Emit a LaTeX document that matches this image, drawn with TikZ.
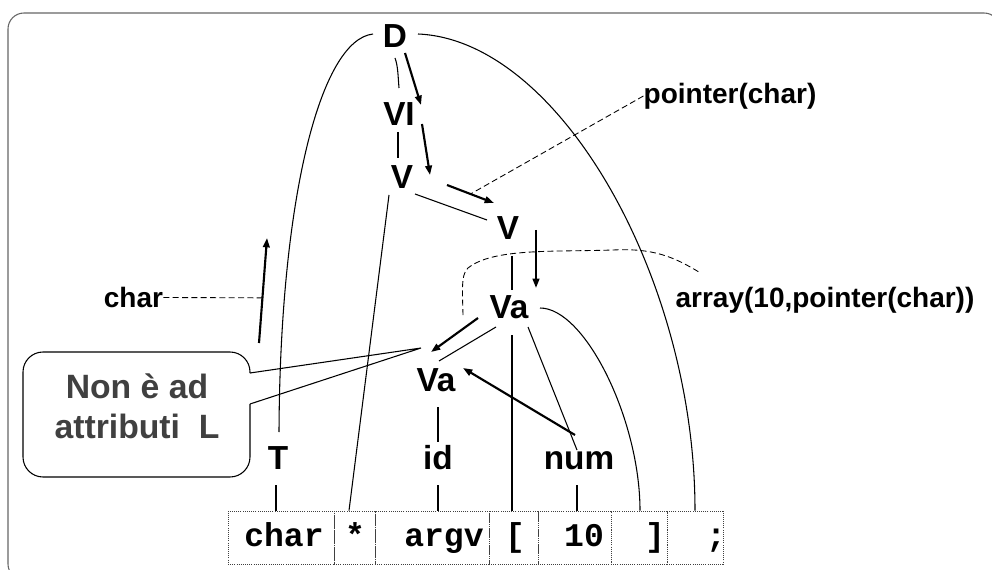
\documentclass[tikz,border=0pt]{standalone}
\usepackage{fontspec}
\setmainfont{Liberation Sans}
\newfontfamily\monofont{Liberation Mono}
\usetikzlibrary{arrows.meta,calc}
\begin{document}
\begin{tikzpicture}[x=0.75pt,y=-0.75pt,
  tn/.style={inner sep=0pt, font=\fontsize{25}{28}\selectfont\bfseries},
  lbl/.style={inner sep=0pt, font=\fontsize{21}{24}\selectfont\bfseries},
  tokbox/.style={draw=black!75, densely dotted, line width=0.6pt, minimum height=39.75pt, inner sep=0pt},
  tok/.style={anchor=base, inner sep=0pt, font=\monofont\bfseries\fontsize{24.8}{28}\selectfont},
  edge/.style={line width=0.8pt},
  edgethick/.style={line width=1.3pt},
  attr/.style={line width=1.6pt, -{Triangle[length=7pt,width=5pt]}},
  dashln/.style={line width=0.65pt, dash pattern=on 4.5pt off 2.5pt},
  framestyle/.style={draw=black!60, line width=0.8pt},
  notestyle/.style={inner sep=0pt, align=center, text=black!75, font=\fontsize{25.3}{30}\selectfont\bfseries}
]
\clip (0,0) rectangle (992,570);
\useasboundingbox (0,0) rectangle (992,570);
\draw[framestyle, rounded corners=12pt] (8,13) rectangle (1000,580);

% tree nodes
\node[tn] (D)   at (395,36)  {D};
\node[tn] (VI)  at (399,114) {VI};
\node[tn] (V1)  at (402,177) {V};
\node[tn] (V2)  at (508,228) {V};
\node[tn] (Va1) at (509,307) {Va};
\node[tn] (Va2) at (436,380) {Va};
\node[tn] (T)   at (278,458) {T};
\node[tn] (id)  at (438,458) {id};
\node[tn] (num) at (579,461) {num};

% token boxes
\node[tokbox, minimum width=79.5pt]  (b1) at (281,537.5)   {};
\node[tokbox, minimum width=30.75pt] (b2) at (354.5,537.5) {};
\node[tokbox, minimum width=85.5pt]  (b3) at (432,537.5)   {};
\node[tokbox, minimum width=36.75pt] (b4) at (513.5,537.5) {};
\node[tokbox, minimum width=54.75pt] (b5) at (574.5,537.5) {};
\node[tokbox, minimum width=42pt]    (b6) at (639,537.5)   {};
\node[tokbox, minimum width=42pt]    (b7) at (695,537.5)   {};
\node[tok] (t1) at (284,546) {char};
\node[tok] (t2) at (355,546) {*};
\node[tok] (t3) at (444,546) {argv};
\node[tok] (t4) at (515,546) {[};
\node[tok] (t5) at (584,546) {10};
\node[tok] (t6) at (655,546) {]};
\node[tok] (t7) at (716,546) {;};

% labels
\node[lbl] (lchar) at (133.5,297.5) {char};
\node[lbl] (lptr)  at (730,96)      {pointer(char)};
\node[lbl] (larr)  at (825,300)     {array(10,pointer(char))};

% parse tree edges
\draw[edge] ($(D)+(0,22)$) .. controls +(3,8) and +(-1,-12) .. ($(VI)+(0,-26)$);
\draw[edge] ($(VI)+(-1,18)$) -- ($(V1)+(-4,-19)$);
\draw[edge] ($(V1)+(13,17)$) -- ($(V2)+(-21,-8)$);
\draw[edge] ($(V1)+(-13,18)$) -- ($(b2.north)+(-5.5,0)$);
\draw[edge] ($(V2)+(4,28)$) -- ($(Va1)+(3,-17)$);
\draw[edge] ($(Va1)+(-13,20)$) -- ($(Va2)+(3,-19)$);
\draw[edgethick] ($(Va1)+(3,28)$) -- ($(b4.north)+(-1.5,0)$);
\draw[edge] ($(Va1)+(19,20)$) -- ($(num)+(-2,-11)$);
\draw[edge] ($(Va1)+(31,1)$) .. controls +(45,0) and +(0,-91) .. ($(b6.north)+(1,0)$);
\draw[edge] ($(D)+(23,-2)$) .. controls +(142,6) and +(0,-231) .. (b7.north);
\draw[edge] ($(D)+(-22,-2)$) .. controls +(-53,6) and +(1,-232) .. ($(T)+(1,-26)$);
\draw[edge] ($(Va2)+(2,27)$) -- ($(id)+(0,-16)$);
\draw[edge] ($(T)+(-2,27)$) -- ($(b1.north)+(-5,0)$);
\draw[edge] ($(id)+(0,27)$) -- ($(b3.north)+(6,0)$);
\draw[edge] ($(num)+(-2,24)$) -- ($(b5.north)+(2.5,0)$);

% attribute flow arrows
\coordinate (a3s) at ($(V1)+(45,8)$);
\coordinate (a3e) at ($(V2)+(-14,-25)$);
\coordinate (a7s) at ($(T)+(-19,-115)$);
\coordinate (a7e) at ($(T)+(-11,-220)$);
\draw[attr] ($(D)+(10,17)$) -- ($(VI)+(22,-9)$);
\draw[attr] ($(VI)+(23,10)$) -- ($(V1)+(28,-2)$);
\draw[attr] (a3s) -- (a3e);
\draw[attr] ($(V2)+(28,2)$) -- ($(Va1)+(27,-19)$);
\draw[attr] ($(Va1)+(-31,11)$) -- ($(Va2)+(-5,-28)$);
\draw[attr] ($(num)+(-4,-26)$) -- ($(Va2)+(27,-12)$);
\draw[attr] (a7s) -- (a7e);

% dashed annotations
\draw[dashln] (lchar.east) -- ($(a7s)!0.43!(a7e)$);
\draw[dashln] (lptr.west) -- ($(a3s)!0.5!(a3e)$);
\coordinate (arrend) at ($(Va1)+(-46,11)$);
\draw[dashln] ($(larr.north west)+(23,-15)$) .. controls +(-25,-15) and +(40,-2) .. (613,250)
  .. controls +(-60,2) and +(25,-20) .. (468,268) .. controls +(-8,6) and +(0,-20) .. (arrend);

% callout
\node[notestyle] (note) at (137,406) {Non è ad\\attributi\ \ L};
\coordinate (tip) at ($(Va2)+(-15,-32)$);
\draw[edge, rounded corners=15pt] (250,373) -- (250,352) -- (23,352) -- (23,477) -- (250,477) -- (250,404);
\draw[edge] (250,373) -- (tip) -- (250,404);
\end{tikzpicture}
\end{document}
